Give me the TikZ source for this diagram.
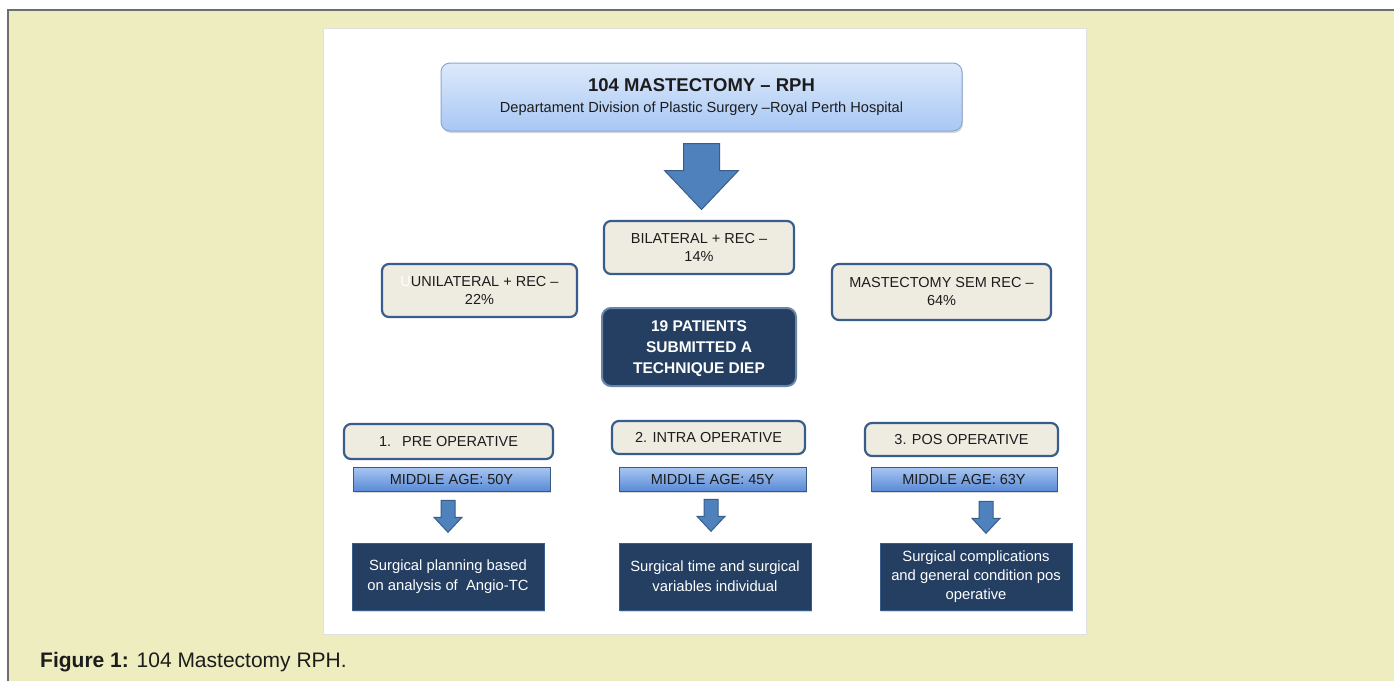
\documentclass[tikz,border=0pt]{standalone}
\usepackage{fontspec}
\setmainfont{Liberation Sans}
\usetikzlibrary{calc,shadows}

\definecolor{panel}{HTML}{EEEDC0}
\definecolor{rim}{HTML}{6E6E6E}
\definecolor{paper}{HTML}{EEECE1}
\definecolor{slate}{HTML}{385D8A}
\definecolor{navy}{HTML}{243F62}
\definecolor{arrowblue}{HTML}{4F81BD}
\definecolor{skytop}{HTML}{DDE9FB}
\definecolor{skybot}{HTML}{A8C7F4}
\definecolor{skyedge}{HTML}{8AA8D4}
\definecolor{bartop}{HTML}{A9C6F2}
\definecolor{barbot}{HTML}{5A8BD6}
\definecolor{ink}{HTML}{1C1C1C}

\begin{document}
\begin{tikzpicture}[x=1pt, y=-1pt]
\tikzset{
  soft/.style={drop shadow={opacity=.3, shadow xshift=1pt, shadow yshift=-2pt}},
  head/.style={draw=skyedge, line width=1pt, rounded corners=9pt,
    top color=skytop, bottom color=skybot, soft, text=ink, align=center,
    minimum width=521pt, minimum height=68pt, inner sep=0pt},
  group/.style={draw=slate, line width=2.2pt, fill=paper, rounded corners=7pt,
    text=ink, align=center, inner sep=0pt, font=\fontsize{14.5}{18}\selectfont},
  core/.style={draw=slate!75!white, line width=2pt, fill=navy, rounded corners=9pt,
    text=white, align=center, inner sep=0pt, font=\fontsize{15.5}{21}\selectfont\bfseries},
  agebar/.style={draw=arrowblue!70!black, line width=.6pt, top color=bartop,
    bottom color=barbot, soft, text=ink, inner sep=0pt,
    minimum height=24pt, font=\fontsize{14.5}{18}\selectfont},
  goal/.style={draw=slate, line width=.8pt, fill=navy, soft, text=white,
    align=center, inner sep=0pt, minimum width=192pt, minimum height=67pt,
    font=\fontsize{14.8}{20}\selectfont},
  barrow/.style={fill=arrowblue, draw=slate, line width=1pt, line join=miter},
  pics/downarrow/.style args={#1/#2/#3/#4}{code={
    \draw[barrow] (-#1,0) -- (#1,0) -- (#1,#3) -- (#2,#3) -- (0,#4)
      -- (-#2,#3) -- (-#1,#3) -- cycle;}}}

\useasboundingbox (0,0) rectangle (1394,681);

% page frame and white figure area
\fill[panel] (8,10) rectangle (1394,681);
\draw[rim, line width=2pt] (8,681) -- (8,10) -- (1394,10);
\draw[black!12, fill=white] (323,28) rectangle (1086,634);

% header
\node[head, font=\fontsize{14.6}{21}\selectfont] (title) at (701.5,97)
  {{\fontsize{18.5}{21}\selectfont\bfseries 104 MASTECTOMY – RPH}\\
   Departament Division of Plastic Surgery –Royal Perth Hospital};
\pic at ($(title.south)+(0,12)$) {downarrow=18/37/27/66};

% split of the 104 cases
\node[group, minimum width=190pt, minimum height=53pt] (bilat) at (699,247.5)
  {BILATERAL + REC –\\14\%};
\node[group, minimum width=195pt, minimum height=53pt] (unilat) at (479.5,290.5)
  {\textcolor{white}{U}UNILATERAL + REC –\\22\%};
\node[group, minimum width=219pt, minimum height=56pt] (norec) at (941.5,292)
  {MASTECTOMY SEM REC –\\64\%};

\node[core, minimum width=194pt, minimum height=78pt] (diep) at (699,347)
  {\rule{0pt}{14pt}19 PATIENTS\\SUBMITTED A\\TECHNIQUE DIEP};

% three phases
\node[group, minimum width=209pt, minimum height=35pt] (pre) at (448.5,441.5)
  {1.\hspace{11pt}PRE OPERATIVE};
\node[group, minimum width=193pt, minimum height=33pt] (intra) at (708.5,437.5)
  {2. INTRA OPERATIVE};
\node[group, minimum width=193pt, minimum height=33pt] (post) at (961.5,439.5)
  {3. POS OPERATIVE};

\node[agebar, minimum width=197pt] (age1) at (451.5,479) {MIDDLE AGE: 50Y};
\node[agebar, minimum width=187pt] (age2) at (712.5,479) {MIDDLE AGE: 45Y};
\node[agebar, minimum width=186pt] (age3) at (964,479) {MIDDLE AGE: 63Y};

\pic at ($(age1.south)+(-3.5,9)$) {downarrow=7/14/17/32};
\pic at ($(age2.south)+(-1.5,8)$) {downarrow=7/14/17/32};
\pic at ($(age3.south)+(22,10)$) {downarrow=7/14/17/32};

\node[goal] (plan) at (448,576.5)
  {Surgical planning based\\on analysis of\ \ Angio-TC};
\node[goal] (time) at (715,576.5)
  {Surgical time and surgical\\variables individual};
\node[goal, font=\fontsize{14.8}{19}\selectfont] (compl) at (976,576.5)
  {Surgical complications\\and general condition pos\\operative};

% caption
\node[anchor=base west, text=ink, inner sep=0pt, font=\fontsize{21}{24}\selectfont]
  (caption) at (40,667) {\textbf{Figure 1:} 104 Mastectomy RPH.};
\end{tikzpicture}
\end{document}
